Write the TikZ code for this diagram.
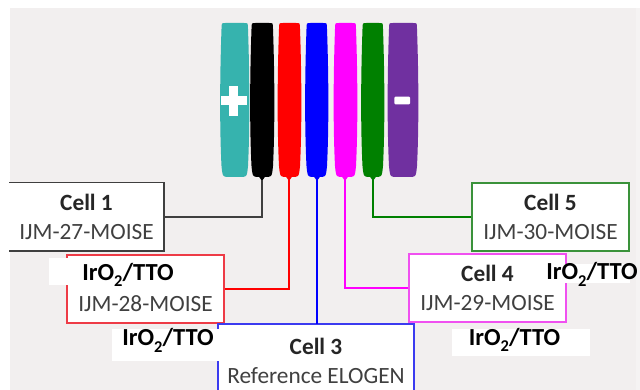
\documentclass[tikz,border=0pt]{standalone}
\usepackage{fontspec}
\setmainfont{Carlito}
\definecolor{bgc}{HTML}{F2EFEF}
\definecolor{bgr}{HTML}{F5F3F3}
\definecolor{tealc}{HTML}{36B3AE}
\definecolor{purc}{HTML}{7030A0}
\definecolor{grnc}{HTML}{008000}
\definecolor{redc}{HTML}{FF0000}
\definecolor{bluc}{HTML}{0000FF}
\definecolor{magc}{HTML}{FF00FF}
\definecolor{blkc}{HTML}{000000}
\definecolor{txt}{HTML}{404040}
\definecolor{txtb}{HTML}{262626}
\definecolor{b1}{HTML}{3F3F3F}
\definecolor{b2}{HTML}{EE3B46}
\definecolor{b3}{HTML}{3B3BF0}
\definecolor{b4}{HTML}{F050F0}
\definecolor{b5}{HTML}{3A923A}
\newcommand\myplate[3]{%
\begin{scope}[shift={(#1,0)}]
\fill[#3] (1,29) .. controls (1,23) .. (5,23) -- ({#2-5},23) .. controls ({#2-1},23) .. ({#2-1},29)
 .. controls ({#2+0.8},80) and ({#2+0.8},130) .. ({#2-1},166) .. controls ({#2-2},176) .. ({#2-6},177)
 -- (6,177) .. controls (2,176) .. (1,166) .. controls (-0.8,130) and (-0.8,80) .. (1,29) -- cycle;
\end{scope}}
\newcommand\mynipple[2]{\fill[#2] ({#1-3.5},176) -- (#1,181) -- ({#1+3.5},176) -- cycle;}
\newcommand\iro{IrO\raisebox{-0.28em}{\fontsize{16.5}{16.5}\selectfont 2}/TTO}
\begin{document}
\begin{tikzpicture}[x=1pt,y=-1pt,
  cellbox/.style={rectangle, inner sep=0pt, fill=white, line width=1.7pt, align=center,
     text=txt, font=\fontsize{23.3}{28.5}\selectfont},
  wire/.style={line width=2pt},
  labbg/.style={rectangle, inner sep=0pt, fill=white},
  labtxt/.style={anchor=base, inner sep=0pt, text=black, font=\fontsize{24.5}{24.5}\selectfont\bfseries}]
\clip (0,0) rectangle (640,390);
\fill[white] (0,0) rectangle (640,390);
\fill[bgc] (10,8) rectangle (636,390);
\fill[bgr] (636,8) rectangle (640,390);
% plates
\myplate{220.5}{28.5}{tealc}
\myplate{250.5}{23.5}{blkc}
\myplate{278}{23}{redc}
\myplate{305.5}{22.5}{bluc}
\myplate{334}{23}{magc}
\myplate{361.5}{22.5}{grnc}
\myplate{388}{30}{purc}
\mynipple{262}{blkc}
\mynipple{289}{redc}
\mynipple{317}{bluc}
\mynipple{345}{magc}
\mynipple{373}{grnc}
\fill[white] (220.9,96.5) rectangle (247.3,104.7);
\fill[white] (229.3,86) rectangle (237.7,116);
\fill[white, rounded corners=1pt] (394.3,96.7) rectangle (410,104.3);
% terminals
\coordinate (t1) at (262,180);
\coordinate (t2) at (289,180);
\coordinate (t3) at (317,180);
\coordinate (t4) at (345,180);
\coordinate (t5) at (373,180);
% boxes
\node[cellbox, minimum width=153pt, minimum height=67pt] (c1) at (86.5,217)
  {\textbf{\color{txtb}Cell 1}\\IJM-27-MOISE};
\draw[b1, line width=1.7pt] (c1.north west) -- (c1.north east) -- (c1.south east) -- (c1.south west);
\node[cellbox, draw=b2, minimum width=157pt, minimum height=68pt] (c2) at (145.5,289)
  {\phantom{\textbf{Cell 2}}\\IJM-28-MOISE};
\node[cellbox, minimum width=194pt, minimum height=72pt] (c3) at (316,361)
  {\textbf{\color{txtb}Cell 3}\\Reference ELOGEN};
\draw[b3, line width=1.7pt] (c3.south west) -- (c3.north west) -- (c3.north east) -- (c3.south east);
\node[cellbox, draw=b4, minimum width=157pt, minimum height=68pt] (c4) at (487.5,288)
  {\textbf{\color{txtb}Cell 4}\\IJM-29-MOISE};
\node[cellbox, draw=b5, minimum width=157pt, minimum height=68pt] (c5) at (550.5,217)
  {\textbf{\color{txtb}Cell 5}\\IJM-30-MOISE};
% wires
\draw[wire, b1] (t1) |- (c1.east);
\draw[wire, redc] (t2) |- (c2.east);
\draw[wire, bluc] (t3) -- (t3 |- c3.north);
\draw[wire, magc] (t4) |- (c4.west);
\draw[wire, grnc] (t5) |- (c5.west);
% labels
\node[labbg, minimum width=151pt, minimum height=27pt] (l1bg) at (124.5,271.5) {};
\node[labtxt] (l1) at (128,280) {\iro};
\node[labbg, minimum width=107pt, minimum height=32pt] (l2bg) at (165,345) {};
\node[labtxt] (l2) at (168,345.7) {\iro};
\node[labbg, minimum width=65pt, minimum height=19pt] (l3bg) at (597.5,273.5) {};
\node[labtxt] (l3) at (592,279.3) {\iro};
\node[labbg, minimum width=138pt, minimum height=27pt] (l4bg) at (521,342.5) {};
\node[labtxt] (l4) at (514.5,345) {\iro};
\end{tikzpicture}
\end{document}
